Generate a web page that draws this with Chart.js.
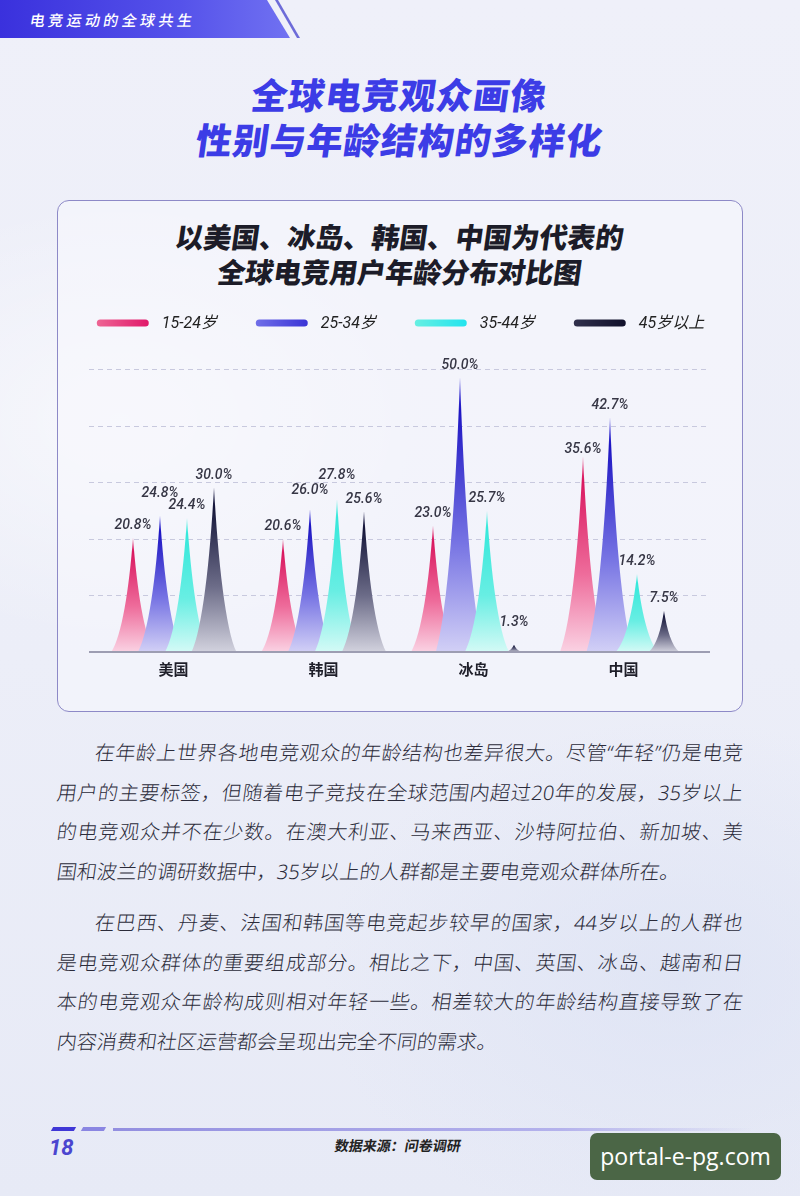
<!DOCTYPE html>
<html lang="zh">
<head>
<meta charset="utf-8">
<title>全球电竞用户年龄分布对比图</title>
<script src="https://cdn.jsdelivr.net/npm/chart.js@4.4.1/dist/chart.umd.min.js"></script>
<style>
  html, body { margin: 0; padding: 0; }
  body {
    width: 800px; height: 1196px; position: relative; overflow: hidden;
    font-family: 'Noto Sans CJK SC', sans-serif;
    background:
      radial-gradient(ellipse 320px 220px at 120px 420px, rgba(255,255,255,0.55), rgba(255,255,255,0)),
      radial-gradient(ellipse 360px 260px at 680px 980px, rgba(220,226,244,0.7), rgba(220,226,244,0)),
      linear-gradient(180deg, #eff0f9 0%, #eceef8 55%, #e7eaf6 100%);
  }
  .band {
    position: absolute; left: 0; top: 0; width: 300px; height: 38px;
    clip-path: polygon(0 0, 267px 0, 290px 38px, 0 38px);
    background: linear-gradient(90deg, #3a31dd 0%, #5552ea 60%, #7374f2 100%);
  }
  .band-line {
    position: absolute; left: 0; top: 0; width: 300px; height: 38px;
    clip-path: polygon(275px 0, 278px 0, 300px 38px, 297px 38px);
    background: #6d6bd8;
  }
  .band-text {
    position: absolute; left: 30px; top: 8px; color: #fff;
    font-size: 15px; line-height: 24px; letter-spacing: 3.4px;
    font-weight: 500; transform: skewX(-10deg); transform-origin: left center;
  }
  .title {
    position: absolute; left: 0; width: 800px; text-align: center;
    font-size: 36px; line-height: 44px; font-weight: 900;
    letter-spacing: 1px; color: #3c3ce6; transform: skewX(-8deg);
  }
  .card {
    position: absolute; left: 57px; top: 200px; width: 686px; height: 512px;
    box-sizing: border-box; border: 1.5px solid #8d89c7; border-radius: 12px;
    background: rgba(247,248,253,0.55);
  }
  .card-title {
    position: absolute; left: 0; width: 800px; text-align: center;
    font-size: 28px; line-height: 35px; font-weight: 900;
    color: #1c1c28; transform: skewX(-8deg);
  }
  #chart { position: absolute; left: 57px; top: 262px; }
  .para {
    position: absolute; left: 57px; width: 686px;
    font-family: 'Noto Sans', 'Noto Sans CJK SC', sans-serif;
    font-size: 20px; line-height: 39.5px; color: #2b2b3a;
    font-weight: 300;
  }
  .para div { text-align: justify; text-align-last: justify; transform: skewX(-8deg); }
  .para div.first { padding-left: 38px; }
  .para div.last { text-align-last: left; }
  .bar-a { position: absolute; left: 52px; top: 1127px; width: 23px; height: 4px; background: #3f37d6; transform: skewX(-30deg); }
  .bar-b { position: absolute; left: 82px; top: 1127px; width: 23px; height: 4px; background: #8a86e2; transform: skewX(-30deg); }
  .bar-c { position: absolute; left: 113px; top: 1128px; width: 640px; height: 3px;
    background: linear-gradient(90deg, #938fe0 0%, #b4b2ec 70%, rgba(210,210,245,0) 100%); }
  .page-no { position: absolute; left: 49px; top: 1134px; font-family: Roboto, sans-serif; font-size: 22px; line-height: 28px;
    font-weight: 700; font-style: italic; color: #4b45cf; }
  .source { position: absolute; left: 335px; top: 1135px; font-size: 14px; line-height: 20px; font-weight: 700;
    color: #222; transform: skewX(-10deg); }
  .mark { position: absolute; left: 590px; top: 1133px; width: 191px; height: 47px; border-radius: 7px;
    background: #4b6646; color: #fff; font-family: 'Open Sans', sans-serif; font-size: 23px; line-height: 47px; text-align: center; }
</style>
</head>
<body>
<div class="band"></div>
<div class="band-line"></div>
<div class="band-text">电竞运动的全球共生</div>

<div class="title" style="top:71px;">全球电竞观众画像</div>
<div class="title" style="top:116px;">性别与年龄结构的多样化</div>

<div class="card"></div>
<div class="card-title" style="top:219px;">以美国、冰岛、韩国、中国为代表的</div>
<div class="card-title" style="top:254px;">全球电竞用户年龄分布对比图</div>

<canvas id="chart" width="686" height="444"></canvas>

<div class="para" style="top:733px;">
  <div class="first">在年龄上世界各地电竞观众的年龄结构也差异很大。尽管“年轻”仍是电竞</div>
  <div>用户的主要标签，但随着电子竞技在全球范围内超过20年的发展，35岁以上</div>
  <div>的电竞观众并不在少数。在澳大利亚、马来西亚、沙特阿拉伯、新加坡、美</div>
  <div class="last">国和波兰的调研数据中，35岁以上的人群都是主要电竞观众群体所在。</div>
</div>
<div class="para" style="top:903px;">
  <div class="first">在巴西、丹麦、法国和韩国等电竞起步较早的国家，44岁以上的人群也</div>
  <div>是电竞观众群体的重要组成部分。相比之下，中国、英国、冰岛、越南和日</div>
  <div>本的电竞观众年龄构成则相对年轻一些。相差较大的年龄结构直接导致了在</div>
  <div class="last">内容消费和社区运营都会呈现出完全不同的需求。</div>
</div>

<div class="bar-a"></div>
<div class="bar-b"></div>
<div class="bar-c"></div>
<div class="page-no">18</div>
<div class="source">数据来源：问卷调研</div>
<div class="mark">portal-e-pg.com</div>

<script>
// data
const categories = ['美国', '韩国', '冰岛', '中国'];
const seriesLabels = ['15-24岁', '25-34岁', '35-44岁', '45岁以上'];
const age15to24 = [20.8, 20.6, 23.0, 35.6];
const age25to34 = [24.8, 26.0, 50.0, 42.7];
const age35to44 = [24.4, 27.8, 25.7, 14.2];
const age45plus = [30.0, 25.6, 1.3, 7.5];
const gridValues = [10.3, 20.6, 30.9, 41.2, 51.5];

// styles: tip, strong, middle, pale
const spikeStops = [
    ['#ec6b9a', '#d9175f', '#ee6c9b', '#fad2e3'],
    ['#5a54e0', '#1d15c3', '#7673e3', '#d2d0f6'],
    ['#86f3ea', '#36e8db', '#68eee3', '#d4faf6'],
    ['#45456a', '#15163a', '#6c6c88', '#d2d2de'],
];
const legendStops = [
    ['#ee6594', '#e0186a'],
    ['#706ee8', '#3a34d6'],
    ['#66efe2', '#22e4ee'],
    ['#30304c', '#10102a'],
];
// extra lift of value labels so neighbours don't collide
const labelLift = [[0, 0, 0, -5], [10, 7, 0, 0], [0, 12, 0, 0], [0, 0, 10, 0]];

const spikePlugin = {
    id: 'spikes',
    beforeDatasetsDraw(chart) {
        const { ctx, chartArea, scales: { y } } = chart;
        ctx.save();
        ctx.strokeStyle = '#c8c9de';
        ctx.lineWidth = 1;
        ctx.setLineDash([5, 4]);
        gridValues.forEach((v) => {
            const py = Math.round(y.getPixelForValue(v)) + 0.5;
            ctx.beginPath();
            ctx.moveTo(chartArea.left - 9.5, py);
            ctx.lineTo(chartArea.right + 11.5, py);
            ctx.stroke();
        });
        ctx.setLineDash([]);

        // legend row, fixed pitch between entries
        ctx.font = 'italic 16px Roboto, "Noto Sans CJK SC", sans-serif';
        ctx.textAlign = 'left';
        ctx.textBaseline = 'middle';
        const pitch = 159;
        const lastW = 65 + ctx.measureText(seriesLabels[seriesLabels.length - 1]).width;
        const total = pitch * (seriesLabels.length - 1) + lastW;
        const x0 = (chartArea.left + chartArea.right) / 2 - total / 2 + 2;
        const ly = chartArea.top - 46;
        seriesLabels.forEach((t, i) => {
            const lx = x0 + i * pitch;
            const g = ctx.createLinearGradient(lx, 0, lx + 52, 0);
            g.addColorStop(0, legendStops[i][0]);
            g.addColorStop(1, legendStops[i][1]);
            ctx.fillStyle = g;
            ctx.beginPath();
            ctx.roundRect(lx, ly - 3.5, 52, 7, 3.5);
            ctx.fill();
            ctx.fillStyle = '#222';
            ctx.fillText(t, lx + 65, ly + 1);
        });
        ctx.restore();
    },
    afterDatasetsDraw(chart) {
        const { ctx, chartArea, scales: { y } } = chart;
        ctx.save();
        chart.data.datasets.forEach((ds, i) => {
            const meta = chart.getDatasetMeta(i);
            meta.data.forEach((bar) => {
                const { x, y: top, base } = bar.getProps(['x', 'y', 'base'], true);
                const h = base - top;
                const w = Math.min(40 + h * 0.03, 12 + h * 0.45);
                const s = spikeStops[i];
                const g = ctx.createLinearGradient(0, top, 0, base);
                g.addColorStop(0, s[0]);
                g.addColorStop(0.12, s[1]);
                g.addColorStop(0.6, s[2]);
                g.addColorStop(1, s[3]);
                ctx.beginPath();
                ctx.moveTo(x - w / 2, base);
                ctx.bezierCurveTo(x - w * 0.26, base - h * 0.14, x - w * 0.09, base - h * 0.55, x, top);
                ctx.bezierCurveTo(x + w * 0.09, base - h * 0.55, x + w * 0.26, base - h * 0.14, x + w / 2, base);
                ctx.closePath();
                ctx.fillStyle = g;
                ctx.fill();
            });
        });

        // baseline
        const by = y.getPixelForValue(0);
        ctx.strokeStyle = '#9d9db2';
        ctx.lineWidth = 2;
        ctx.beginPath();
        ctx.moveTo(chartArea.left - 9.5, by);
        ctx.lineTo(chartArea.right + 11.5, by);
        ctx.stroke();

        // value labels
        ctx.font = 'italic 500 14px Roboto, sans-serif';
        ctx.fillStyle = '#363645';
        ctx.textAlign = 'center';
        ctx.textBaseline = 'bottom';
        chart.data.datasets.forEach((ds, i) => {
            const meta = chart.getDatasetMeta(i);
            meta.data.forEach((bar, j) => {
                const v = ds.data[j];
                ctx.fillText(v.toFixed(1) + '%', bar.x, bar.y - 5 - labelLift[i][j]);
            });
        });
        ctx.restore();
    }
};

const allSeries = [age15to24, age25to34, age35to44, age45plus];

new Chart(document.getElementById('chart'), {
    type: 'bar',
    data: {
        labels: categories,
        datasets: allSeries.map((values, i) => ({
            label: seriesLabels[i],
            data: values,
            backgroundColor: 'rgba(0,0,0,0)',
            borderWidth: 0,
            categoryPercentage: 0.72,
            barPercentage: 1,
        })),
    },
    options: {
        responsive: false,
        animation: false,
        layout: { padding: { left: 41.5, right: 44.5, top: 107, bottom: 20 } },
        plugins: {
            tooltip: { enabled: false },
            legend: { display: false },
        },
        scales: {
            x: {
                grid: { display: false, drawTicks: false },
                border: { display: false },
                ticks: {
                    padding: 8,
                    color: '#1f1f2a',
                    font: { family: '"Noto Sans CJK SC", sans-serif', size: 15, weight: 'bold' },
                },
            },
            y: {
                display: false,
                min: 0,
                max: 51.5,
            },
        },
    },
    plugins: [spikePlugin],
});
</script>
</body>
</html>
